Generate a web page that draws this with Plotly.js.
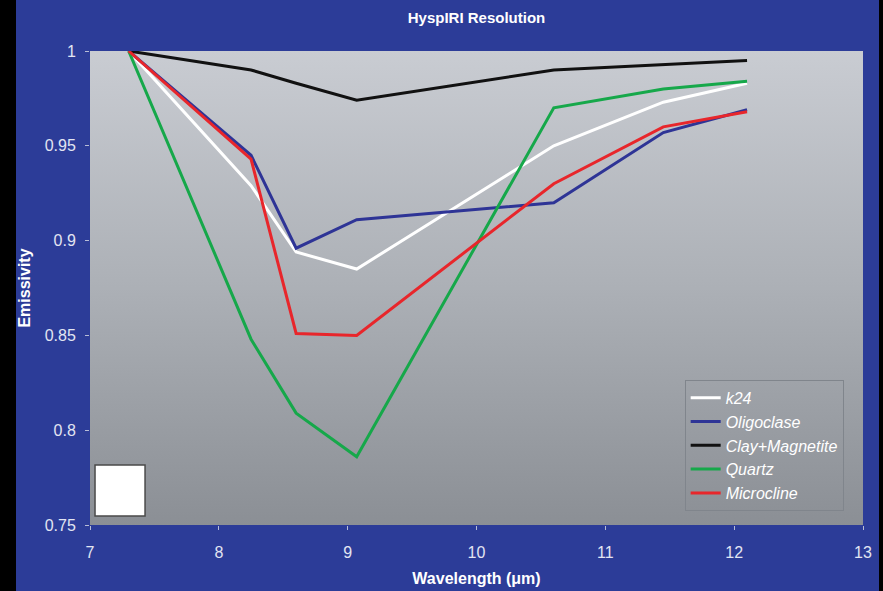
<!DOCTYPE html>
<html>
<head>
<meta charset="utf-8">
<script src="https://cdn.plot.ly/plotly-3.0.1.min.js"></script>
<style>
  html, body { margin: 0; padding: 0; background: #000; width: 883px; height: 591px; overflow: hidden; }
  #chart { position: absolute; left: 16px; top: 0; width: 863px; height: 591px; }
</style>
</head>
<body>
<div id="chart"></div>
<script>
// Wavelength positions (µm)
const wavelength = [7.3, 8.25, 8.6, 9.07, 10.6, 11.45, 12.1];

// Emissivity series
const k24          = [1.000, 0.929, 0.894, 0.885, 0.950, 0.973, 0.983];
const oligoclase   = [1.000, 0.945, 0.896, 0.911, 0.920, 0.957, 0.969];
const clayMagnetite= [1.000, 0.990, 0.983, 0.974, 0.990, 0.993, 0.995];
const quartz       = [1.000, 0.848, 0.809, 0.786, 0.970, 0.980, 0.984];
const microcline   = [1.000, 0.943, 0.851, 0.850, 0.930, 0.960, 0.968];

const seriesNames  = ["k24", "Oligoclase", "Clay+Magnetite", "Quartz", "Microcline"];
const seriesValues = [k24, oligoclase, clayMagnetite, quartz, microcline];
const seriesColors = ["#ffffff", "#2e3496", "#111111", "#16a84a", "#e8262b"];

const traces = seriesNames.map((name, i) => ({
  type: "scatter",
  mode: "lines",
  name: name,
  x: wavelength,
  y: seriesValues[i],
  line: { color: seriesColors[i], width: 3 }
}));

const gradSvg = "<svg xmlns='http://www.w3.org/2000/svg' width='100' height='100' preserveAspectRatio='none'>" +
  "<defs><linearGradient id='g' x1='0' y1='0' x2='0' y2='1'>" +
  "<stop offset='0' stop-color='#c9ccd2'/><stop offset='0.5' stop-color='#acb0b6'/><stop offset='1' stop-color='#8b8f95'/>" +
  "</linearGradient></defs><rect width='100' height='100' fill='url(#g)'/></svg>";
const gradUri = "data:image/svg+xml;charset=utf-8," + encodeURIComponent(gradSvg);

const fontFamily = "'Liberation Sans', Arial, sans-serif";
const tickColor = "#e2e5f2";

const layout = {
  width: 863,
  height: 591,
  margin: { l: 74, r: 16, t: 51, b: 66, pad: 0 },
  paper_bgcolor: "#2c3c98",
  plot_bgcolor: "rgba(0,0,0,0)",
  font: { family: fontFamily, color: tickColor, size: 16 },
  title: {
    text: "<b>HyspIRI Resolution</b>",
    font: { family: fontFamily, size: 15, color: "#ffffff" },
    x: 0.5, xref: "paper", xanchor: "center",
    y: 1 - 18 / 591, yref: "container", yanchor: "middle"
  },
  xaxis: {
    range: [7, 13],
    dtick: 1,
    tick0: 7,
    showgrid: false,
    zeroline: false,
    showline: false,
    ticks: "outside",
    ticklen: 4,
    tickcolor: "#b8bdd6",
    ticklabelstandoff: 9,
    tickfont: { family: fontFamily, size: 16, color: tickColor },
    title: { text: "<b>Wavelength (μm)</b>", font: { family: fontFamily, size: 16, color: "#ffffff" }, standoff: 12 }
  },
  yaxis: {
    range: [0.75, 1],
    dtick: 0.05,
    tick0: 0.75,
    showgrid: false,
    zeroline: false,
    showline: false,
    ticks: "outside",
    ticklen: 4,
    tickcolor: "#b8bdd6",
    ticklabelstandoff: 6,
    tickfont: { family: fontFamily, size: 16, color: tickColor },
    title: { text: "<b>Emissivity</b>", font: { family: fontFamily, size: 16, color: "#ffffff" }, standoff: 10 }
  },
  legend: {
    x: 0.975, xanchor: "right",
    y: 0.03, yanchor: "bottom",
    bgcolor: "rgba(0,0,0,0)",
    bordercolor: "#80858c",
    borderwidth: 1,
    font: { family: fontFamily, size: 16, color: "#ffffff", style: "italic" }
  },
  images: [{
    source: gradUri,
    xref: "paper", yref: "paper",
    x: 0, y: 1, sizex: 1, sizey: 1,
    xanchor: "left", yanchor: "top",
    sizing: "stretch",
    layer: "below"
  }],
  shapes: [{
    type: "rect",
    xref: "paper", yref: "paper",
    x0: 0.0065, x1: 0.0712, y0: 0.019, y1: 0.1266,
    fillcolor: "#ffffff",
    line: { color: "#4a4a4a", width: 1.5 }
  }]
};

Plotly.newPlot("chart", traces, layout, { displayModeBar: false, staticPlot: true });
</script>
</body>
</html>
